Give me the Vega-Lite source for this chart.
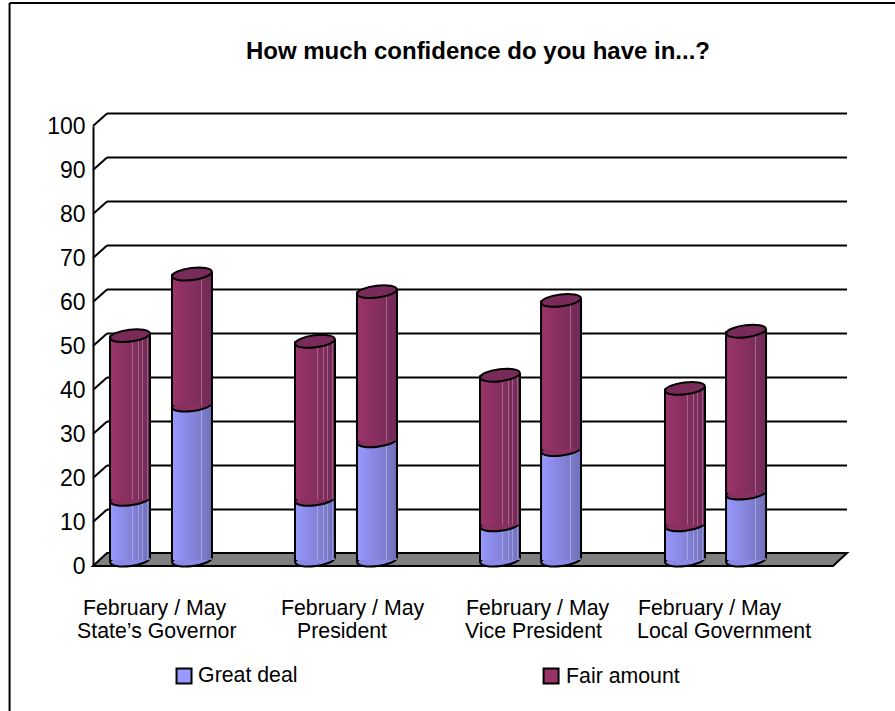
{
  "$schema": "https://vega.github.io/schema/vega-lite/v6.json",
  "width": 740,
  "height": 440,
  "autosize": "none",
  "padding": {"left": 93, "top": 126, "right": 62, "bottom": 145},
  "background": "white",
  "config": {"view": {"stroke": null}, "font": "Liberation Sans", "scale": {"continuousPadding": 0}},
  "datasets": {
    "bars": [
      {"pos": 0.2, "survey": "February", "question": "State's Governor", "great": 13.8, "total": 51},
      {"pos": 0.535, "survey": "May", "question": "State's Governor", "great": 35.2, "total": 65},
      {"pos": 1.2, "survey": "February", "question": "President", "great": 13.8, "total": 49.7},
      {"pos": 1.535, "survey": "May", "question": "President", "great": 27.1, "total": 61},
      {"pos": 2.2, "survey": "February", "question": "Vice President", "great": 8, "total": 42},
      {"pos": 2.53, "survey": "May", "question": "Vice President", "great": 25.1, "total": 59},
      {"pos": 3.2, "survey": "February", "question": "Local Government", "great": 8, "total": 39},
      {"pos": 3.53, "survey": "May", "question": "Local Government", "great": 15.2, "total": 52}
    ],
    "grid": [
      {"level": 10, "from": 0, "to": 4},
      {"level": 20, "from": 0, "to": 4},
      {"level": 30, "from": 0, "to": 4},
      {"level": 40, "from": 0, "to": 4},
      {"level": 50, "from": 0, "to": 4},
      {"level": 60, "from": 0, "to": 4},
      {"level": 70, "from": 0, "to": 4},
      {"level": 80, "from": 0, "to": 4},
      {"level": 90, "from": 0, "to": 4},
      {"level": 100, "from": 0, "to": 4}
    ],
    "floor": [
      {"at": 0, "low": 0, "high": 0},
      {"at": 0.0757, "low": 0, "high": 2.95},
      {"at": 4, "low": 0, "high": 2.95},
      {"at": 4.0757, "low": 2.95, "high": 2.95}
    ],
    "frame": [
      {"x1": -0.451, "x2": -0.451, "y1": 127.95, "y2": -33},
      {"x1": -0.451, "x2": 4.34, "y1": 127.95, "y2": 127.95}
    ],
    "heading": [
      {"at": 2.081, "line": 115.3, "text": "How much confidence do you have in...?"}
    ],
    "captions": [
      {"at": -0.054, "line": -11.1, "text": "February / May"},
      {"at": -0.086, "line": -16.4, "text": "State’s Governor"},
      {"at": 1.016, "line": -11.1, "text": "February / May"},
      {"at": 1.103, "line": -16.4, "text": "President"},
      {"at": 2.016, "line": -11.1, "text": "February / May"},
      {"at": 2.011, "line": -16.4, "text": "Vice President"},
      {"at": 2.946, "line": -11.1, "text": "February / May"},
      {"at": 2.941, "line": -16.4, "text": "Local Government"},
      {"at": 0.568, "line": -26.4, "text": "Great deal"},
      {"at": 2.557, "line": -26.6, "text": "Fair amount"}
    ],
    "swatches": [
      {"at": 0.492, "line": -25, "series": "Great deal"},
      {"at": 2.476, "line": -25, "series": "Fair amount"}
    ]
  },
  "layer": [
    {
      "description": "Outer chart frame, top and left edges",
      "data": {"name": "frame"},
      "mark": {"type": "rule", "stroke": "black", "strokeWidth": 2},
      "encoding": {
        "x": {"field": "x1", "type": "quantitative", "scale": {"domain": [0, 4], "nice": false}, "axis": null},
        "x2": {"field": "x2"},
        "y": {"field": "y1", "type": "quantitative", "scale": {"domain": [0, 100], "nice": false},
          "axis": {"title": null, "values": [0, 10, 20, 30, 40, 50, 60, 70, 80, 90, 100], "grid": false, "ticks": false, "domain": true, "domainColor": "black", "domainWidth": 2, "labelFont": "Liberation Sans", "labelFontSize": 23, "labelColor": "black", "labelPadding": 8}},
        "y2": {"field": "y2"}
      }
    },
    {
      "description": "Gridlines along the back wall",
      "data": {"name": "grid"},
      "mark": {"type": "rule", "stroke": "black", "strokeWidth": 2, "xOffset": 14, "x2Offset": 14, "yOffset": -12.5, "y2Offset": -12.5},
      "encoding": {
        "x": {"field": "from", "type": "quantitative", "scale": {"domain": [0, 4], "nice": false}},
        "x2": {"field": "to"},
        "y": {"field": "level", "type": "quantitative", "scale": {"domain": [0, 100], "nice": false}},
        "y2": {"field": "level"}
      }
    },
    {
      "description": "Gridline slant along the side wall",
      "data": {"name": "grid"},
      "mark": {"type": "rule", "stroke": "black", "strokeWidth": 2, "x2Offset": 14, "y2Offset": -12.5},
      "encoding": {
        "x": {"field": "from", "type": "quantitative", "scale": {"domain": [0, 4], "nice": false}},
        "x2": {"field": "from"},
        "y": {"field": "level", "type": "quantitative", "scale": {"domain": [0, 100], "nice": false}},
        "y2": {"field": "level"}
      }
    },
    {
      "description": "Grey floor of the plot box",
      "data": {"name": "floor"},
      "mark": {"type": "area", "fill": "#808080", "stroke": "black", "strokeWidth": 2, "orient": "vertical"},
      "encoding": {
        "x": {"field": "at", "type": "quantitative", "scale": {"domain": [0, 4], "nice": false}},
        "y": {"field": "high", "type": "quantitative", "scale": {"domain": [0, 100], "nice": false}},
        "y2": {"field": "low"}
      }
    },
    {
      "description": "Cylinder base",
      "data": {"name": "bars"},
      "mark": {"type": "point", "filled": true, "fill": "#8a8ae6", "fillOpacity": 1, "stroke": "black", "strokeWidth": 2, "strokeOpacity": 1, "size": 1600, "yOffset": -6,
        "shape": "M-0.993,0.122A1,0.3,-7,1,1,0.993,-0.122A1,0.3,-7,1,1,-0.993,0.122Z"},
      "encoding": {
        "x": {"field": "pos", "type": "quantitative", "scale": {"domain": [0, 4], "nice": false}},
        "y": {"datum": 0, "type": "quantitative", "scale": {"domain": [0, 100], "nice": false}}
      }
    },
    {
      "description": "Great deal body, February cylinders",
      "data": {"name": "bars"},
      "transform": [{"filter": "datum.survey === 'February'"}],
      "mark": {"type": "bar", "size": 40, "yOffset": -6, "y2Offset": -6,
        "fill": {"gradient": "linear", "x1": 0, "y1": 0, "x2": 1, "y2": 0, "stops": [
          {"offset": 0, "color": "#9999ff"},
          {"offset": 0.55, "color": "#8282d8"}, {"offset": 0.55, "color": "#a5a5e0"}, {"offset": 0.575, "color": "#a5a5e0"}, {"offset": 0.575, "color": "#8282d8"},
          {"offset": 0.71, "color": "#7c7ccd"}, {"offset": 0.71, "color": "#a0a0dc"}, {"offset": 0.735, "color": "#a0a0dc"}, {"offset": 0.735, "color": "#7c7ccd"},
          {"offset": 0.81, "color": "#7878c6"}, {"offset": 0.81, "color": "#9c9cd8"}, {"offset": 0.835, "color": "#9c9cd8"}, {"offset": 0.835, "color": "#7878c6"},
          {"offset": 0.92, "color": "#7373bf"}, {"offset": 0.92, "color": "#9898d4"}, {"offset": 0.945, "color": "#9898d4"}, {"offset": 0.945, "color": "#7373bf"},
          {"offset": 1, "color": "#7070b9"}
        ]}},
      "encoding": {
        "x": {"field": "pos", "type": "quantitative", "scale": {"domain": [0, 4], "nice": false}},
        "y": {"field": "great", "type": "quantitative", "scale": {"domain": [0, 100], "nice": false}},
        "y2": {"datum": 0}
      }
    },
    {
      "description": "Great deal body, May cylinders",
      "data": {"name": "bars"},
      "transform": [{"filter": "datum.survey === 'May'"}],
      "mark": {"type": "bar", "size": 40, "yOffset": -6, "y2Offset": -6,
        "fill": {"gradient": "linear", "x1": 0, "y1": 0, "x2": 1, "y2": 0, "stops": [
          {"offset": 0, "color": "#9999ff"},
          {"offset": 0.73, "color": "#7b7bcb"}, {"offset": 0.73, "color": "#a5a5e0"}, {"offset": 0.755, "color": "#a5a5e0"}, {"offset": 0.755, "color": "#7b7bcb"},
          {"offset": 1, "color": "#7070b9"}
        ]}},
      "encoding": {
        "x": {"field": "pos", "type": "quantitative", "scale": {"domain": [0, 4], "nice": false}},
        "y": {"field": "great", "type": "quantitative", "scale": {"domain": [0, 100], "nice": false}},
        "y2": {"datum": 0}
      }
    },
    {
      "description": "Seam between the two stacked series",
      "data": {"name": "bars"},
      "mark": {"type": "point", "filled": true, "fill": "#8a3060", "fillOpacity": 1, "stroke": "black", "strokeWidth": 2, "strokeOpacity": 1, "size": 1600, "yOffset": -6,
        "shape": "M-0.993,0.122A1,0.3,-7,1,1,0.993,-0.122A1,0.3,-7,1,1,-0.993,0.122Z"},
      "encoding": {
        "x": {"field": "pos", "type": "quantitative", "scale": {"domain": [0, 4], "nice": false}},
        "y": {"field": "great", "type": "quantitative", "scale": {"domain": [0, 100], "nice": false}}
      }
    },
    {
      "description": "Fair amount body, February cylinders",
      "data": {"name": "bars"},
      "transform": [{"filter": "datum.survey === 'February'"}],
      "mark": {"type": "bar", "size": 40, "yOffset": -6, "y2Offset": -6,
        "fill": {"gradient": "linear", "x1": 0, "y1": 0, "x2": 1, "y2": 0, "stops": [
          {"offset": 0, "color": "#9b3468"},
          {"offset": 0.55, "color": "#832f5e"}, {"offset": 0.55, "color": "#a8648a"}, {"offset": 0.575, "color": "#a8648a"}, {"offset": 0.575, "color": "#832f5e"},
          {"offset": 0.71, "color": "#7c2d5a"}, {"offset": 0.71, "color": "#a8648a"}, {"offset": 0.735, "color": "#a8648a"}, {"offset": 0.735, "color": "#7c2d5a"},
          {"offset": 0.81, "color": "#772c59"}, {"offset": 0.81, "color": "#a46086"}, {"offset": 0.835, "color": "#a46086"}, {"offset": 0.835, "color": "#772c59"},
          {"offset": 0.92, "color": "#732b57"}, {"offset": 0.92, "color": "#a05c82"}, {"offset": 0.945, "color": "#a05c82"}, {"offset": 0.945, "color": "#732b57"},
          {"offset": 1, "color": "#6f2a55"}
        ]}},
      "encoding": {
        "x": {"field": "pos", "type": "quantitative", "scale": {"domain": [0, 4], "nice": false}},
        "y": {"field": "total", "type": "quantitative", "scale": {"domain": [0, 100], "nice": false}},
        "y2": {"field": "great"}
      }
    },
    {
      "description": "Fair amount body, May cylinders",
      "data": {"name": "bars"},
      "transform": [{"filter": "datum.survey === 'May'"}],
      "mark": {"type": "bar", "size": 40, "yOffset": -6, "y2Offset": -6,
        "fill": {"gradient": "linear", "x1": 0, "y1": 0, "x2": 1, "y2": 0, "stops": [
          {"offset": 0, "color": "#9b3468"},
          {"offset": 0.73, "color": "#7b2d5a"}, {"offset": 0.73, "color": "#a8648a"}, {"offset": 0.755, "color": "#a8648a"}, {"offset": 0.755, "color": "#7b2d5a"},
          {"offset": 1, "color": "#6f2a55"}
        ]}},
      "encoding": {
        "x": {"field": "pos", "type": "quantitative", "scale": {"domain": [0, 4], "nice": false}},
        "y": {"field": "total", "type": "quantitative", "scale": {"domain": [0, 100], "nice": false}},
        "y2": {"field": "great"}
      }
    },
    {
      "description": "Left silhouette of each cylinder",
      "data": {"name": "bars"},
      "mark": {"type": "rule", "stroke": "black", "strokeWidth": 2, "xOffset": -20, "yOffset": -6, "y2Offset": -4},
      "encoding": {
        "x": {"field": "pos", "type": "quantitative", "scale": {"domain": [0, 4], "nice": false}},
        "y": {"field": "total", "type": "quantitative", "scale": {"domain": [0, 100], "nice": false}},
        "y2": {"datum": 0}
      }
    },
    {
      "description": "Right silhouette of each cylinder",
      "data": {"name": "bars"},
      "mark": {"type": "rule", "stroke": "black", "strokeWidth": 2, "xOffset": 20, "yOffset": -8, "y2Offset": -8},
      "encoding": {
        "x": {"field": "pos", "type": "quantitative", "scale": {"domain": [0, 4], "nice": false}},
        "y": {"field": "total", "type": "quantitative", "scale": {"domain": [0, 100], "nice": false}},
        "y2": {"datum": 0}
      }
    },
    {
      "description": "Cylinder top caps",
      "data": {"name": "bars"},
      "mark": {"type": "point", "filled": true, "fill": "#782b59", "fillOpacity": 1, "stroke": "black", "strokeWidth": 2, "strokeOpacity": 1, "size": 1600, "yOffset": -6,
        "shape": "M-0.993,0.122A1,0.3,-7,1,1,0.993,-0.122A1,0.3,-7,1,1,-0.993,0.122Z"},
      "encoding": {
        "x": {"field": "pos", "type": "quantitative", "scale": {"domain": [0, 4], "nice": false}},
        "y": {"field": "total", "type": "quantitative", "scale": {"domain": [0, 100], "nice": false}}
      }
    },
    {
      "description": "Chart heading",
      "data": {"name": "heading"},
      "mark": {"type": "text", "align": "center", "baseline": "alphabetic", "font": "Liberation Sans", "fontSize": 24, "fontWeight": "bold", "color": "black"},
      "encoding": {
        "x": {"field": "at", "type": "quantitative", "scale": {"domain": [0, 4], "nice": false}},
        "y": {"field": "line", "type": "quantitative", "scale": {"domain": [0, 100], "nice": false}},
        "text": {"field": "text"}
      }
    },
    {
      "description": "Category captions and legend labels",
      "data": {"name": "captions"},
      "mark": {"type": "text", "align": "left", "baseline": "alphabetic", "font": "Liberation Sans", "fontSize": 21.3, "color": "black"},
      "encoding": {
        "x": {"field": "at", "type": "quantitative", "scale": {"domain": [0, 4], "nice": false}},
        "y": {"field": "line", "type": "quantitative", "scale": {"domain": [0, 100], "nice": false}},
        "text": {"field": "text"}
      }
    },
    {
      "description": "Legend swatches",
      "data": {"name": "swatches"},
      "mark": {"type": "point", "shape": "square", "size": 225, "filled": true, "fillOpacity": 1, "stroke": "black", "strokeWidth": 2, "strokeOpacity": 1},
      "encoding": {
        "x": {"field": "at", "type": "quantitative", "scale": {"domain": [0, 4], "nice": false}},
        "y": {"field": "line", "type": "quantitative", "scale": {"domain": [0, 100], "nice": false}},
        "fill": {"field": "series", "type": "nominal", "legend": null, "scale": {"domain": ["Great deal", "Fair amount"], "range": ["#9999ff", "#993366"]}}
      }
    }
  ]
}
